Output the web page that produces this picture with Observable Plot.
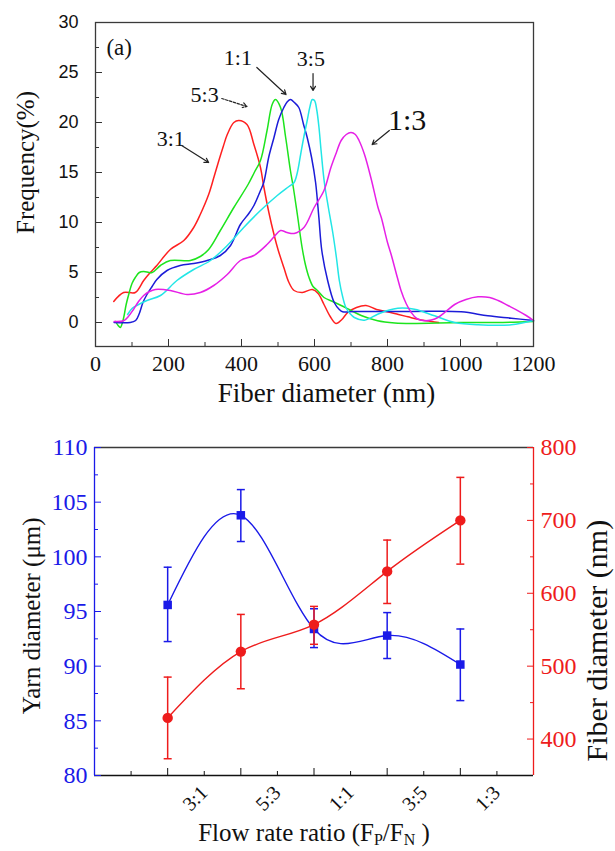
<!DOCTYPE html>
<html><head><meta charset="utf-8">
<script src="https://cdn.jsdelivr.net/npm/d3@7"></script>
<script src="https://cdn.jsdelivr.net/npm/@observablehq/plot@0.6"></script>
<style>
body{margin:0;background:#fff;}
#wrap{position:relative;width:615px;height:851px;overflow:hidden;}
#top{position:absolute;left:0;top:0;}
#bot1,#bot2{position:absolute;left:0;top:420px;}
</style></head><body><div id="wrap"><div id="top"></div><div id="bot1"></div><div id="bot2"></div></div>
<script>
// ---------- Panel (a): fiber diameter distributions ----------
const dist31 = [[50,2.1],[77,3.0],[109,3.0],[132,4.2],[150,5.0],[168,5.7],[205,7.3],[242,8.2],[269,9.5],[287,10.8],[310,12.8],[325,14.6],[338,16.2],[350,17.6],[361,18.8],[379,20.0],[393,20.2],[415,19.8],[434,17.8],[452,15.5],[461,13.6],[475,11.0],[489,8.8],[500,7.3],[516,5.5],[530,4.0],[544,3.2],[567,3.0],[594,3.3],[610,2.9],[626,1.8],[643,0.6],[659,-0.1],[675,0.3],[691,1.0],[715,1.5],[741,1.7],[770,1.3],[796,1.1],[830,0.8],[856,0.57],[880,0.35],[906,0.17],[940,0.0]];
const dist53 = [[55,0.1],[62,-0.3],[68,-0.5],[76,0.3],[84,1.8],[91,2.8],[100,3.9],[109,4.5],[120,5.0],[132,5.1],[155,5.0],[178,5.7],[205,6.2],[260,6.2],[287,6.6],[310,7.3],[342,9.2],[379,11.5],[418,13.8],[435,15.0],[452,16.2],[470,19.2],[484,21.8],[493,22.3],[507,21.5],[521,18.5],[534,15.2],[542,13.5],[553,10.8],[566,7.5],[575,5.8],[585,4.5],[596,3.6],[608,3.2],[626,2.5],[650,2.1],[673,1.7],[700,1.2],[728,0.7],[773,0.17],[820,-0.05],[865,-0.1],[1000,0.0],[1100,0.0],[1200,0.1]];
const dist11 = [[51,0],[95,0],[110,0.2],[120,0.9],[130,2.0],[141,2.8],[155,3.6],[168,4.3],[196,5.2],[232,5.7],[269,5.9],[306,6.2],[342,6.7],[370,7.7],[397,9.8],[420,10.9],[434,11.7],[452,13.2],[461,14.0],[475,16.6],[489,18.5],[502,20.3],[516,21.5],[526,22.1],[534,22.3],[545,22.0],[557,21.5],[570,19.8],[580,18.5],[592,16.5],[603,14.0],[612,10.5],[620,7.2],[636,4.2],[654,2.0],[668,1.3],[677,1.07],[709,1.1],[865,1.1],[1002,1.07],[1075,0.67],[1139,0.43],[1200,0.2]];
const dist35 = [[88,0.8],[100,1.4],[113,1.7],[141,2.2],[178,2.7],[223,4.2],[269,5.3],[315,6.2],[361,7.7],[406,9.5],[452,11.2],[498,12.7],[530,13.6],[544,14.0],[553,15.0],[562,16.8],[571,18.6],[580,20.2],[587,21.5],[594,22.3],[600,22.2],[606,21.3],[612,19.6],[618,17.2],[627,14.0],[638,11.5],[650,9.0],[660,6.5],[668,4.2],[677,2.6],[686,1.5],[697,0.9],[709,0.5],[737,0.23],[773,0.83],[800,1.2],[828,1.43],[874,1.33],[929,0.67],[984,0],[1048,-0.23],[1139,-0.23],[1200,0.2]];
const dist13 = [[51,0.1],[77,0.17],[90,0.6],[104,1.3],[118,2.1],[132,2.7],[148,3.1],[164,3.3],[205,3.2],[251,2.8],[287,3.0],[324,3.7],[361,4.8],[397,6.2],[434,6.7],[470,7.8],[490,8.6],[507,9.2],[525,9.0],[544,8.9],[571,9.5],[599,11.5],[626,13.2],[645,15.5],[660,17.0],[673,18.2],[687,18.8],[700,19.0],[712,18.8],[722,18.2],[737,16.8],[755,14.4],[774,11.5],[783,10.5],[800,8.0],[810,6.8],[827,4.5],[837,3.2],[851,1.9],[865,1.0],[880,0.4],[901,0.17],[920,0.25],[938,0.5],[960,1.1],[984,1.8],[1015,2.3],[1048,2.57],[1080,2.5],[1103,2.2],[1130,1.7],[1158,1.17],[1180,0.7],[1200,0.2]];
const seriesNames = ["3:1","5:3","1:1","3:5","1:3"];
const seriesColors = ["#ff2020","#1de41d","#1c1cd8","#22e6e6","#e620e6"];
const seriesData = [dist31, dist53, dist11, dist35, dist13];

// annotation labels (data units)
const annText = ["3:1","5:3","1:1","3:5","1:3"];
const annX = [206,299,390,590,854];
const annY = [18.4,22.8,26.5,26.4,20.2];
const arrX1 = [236,346,442,596,805], arrY1 = [17.7,22.4,25.5,24.9,19.2];
const arrX2 = [310,415,522,596,758], arrY2 = [16.0,21.6,22.8,23.2,17.8];

const topXTicks = [0,200,400,600,800,1000,1200];
const topXMinor = [100,300,500,700,900,1100];
const topYTicks = [0,5,10,15,20,25,30];
const topYMinor = [2.5,7.5,12.5,17.5,22.5,27.5];

// ---------- Panel (b): yarn & fiber diameter vs flow rate ratio ----------
const ratioLabels = ["3:1","5:3","1:1","3:5","1:3"];
const ratioPos = [1,2,3,4,5];
const yarnMean = [95.6,103.8,93.4,92.8,90.15];
const yarnLo = [92.25,101.4,91.7,90.7,86.85];
const yarnHi = [99.05,106.15,95.25,94.9,93.4];
const fiberMean = [429,520,557,630,700];
const fiberLo = [373,469,530,586,640];
const fiberHi = [485,571,582,673,759];
const yarnTicks = [80,85,90,95,100,105,110];
const yarnMinor = [82.5,87.5,92.5,97.5,102.5,107.5];
const fiberTicks = [400,500,600,700,800];
const fiberMinor = [450,550,650,750];

const serif = "'Liberation Serif','Times New Roman',Times,serif";
const sans = "'Liberation Sans',Arial,sans-serif";
const blue = "#1a1ae8", red = "#ee1c1c";

// ---------- top plot ----------
const idx = d3.range(annText.length);
const topPlot = Plot.plot({
  width: 615, height: 420,
  marginLeft: 95, marginRight: 82, marginTop: 22, marginBottom: 74,
  style: {background: "transparent", overflow: "visible", color: "#111"},
  x: {domain: [0, 1200]},
  y: {domain: [-2.4, 30]},
  marks: [
    Plot.axisY({ticks: topYTicks, tickSize: 0, tickPadding: 17, fontSize: 18, label: null, tickFormat: d => String(d)}),
    Plot.axisY({ticks: topYTicks, tickSize: -7, fill: "none", stroke: "#333"}),
    Plot.axisY({ticks: topYMinor, tickSize: -4, fill: "none", stroke: "#333"}),
    Plot.axisX({ticks: topXTicks, tickSize: 0, tickPadding: 9, fontSize: 22, label: null, tickFormat: d => String(d)}),
    Plot.axisX({ticks: topXTicks, tickSize: -7, fill: "none", stroke: "#333"}),
    Plot.axisX({ticks: topXMinor, tickSize: -4, fill: "none", stroke: "#333"}),
    ...seriesData.map((pts, i) => Plot.line(pts, {x: d => d[0], y: d => d[1], stroke: seriesColors[i], strokeWidth: 1.5, curve: "catmull-rom"})),
    Plot.frame({stroke: "#3a3a3a", strokeWidth: 1.3}),
    Plot.text(["(a)"], {x: 30, y: 27.5, textAnchor: "start", fontSize: 23}),
    Plot.text(idx, {filter: i => i !== 4, x: i => annX[i], y: i => annY[i], text: i => annText[i], fontSize: 22}),
    Plot.text(idx, {filter: i => i === 4, x: i => annX[i], y: i => annY[i], text: i => annText[i], fontSize: 30}),
    Plot.arrow(idx, {filter: i => i !== 1, x1: i => arrX1[i], y1: i => arrY1[i], x2: i => arrX2[i], y2: i => arrY2[i], stroke: "#222", strokeWidth: 1.2, headLength: 6}),
    Plot.arrow(idx, {filter: i => i === 1, x1: i => arrX1[i], y1: i => arrY1[i], x2: i => arrX2[i], y2: i => arrY2[i], stroke: "#222", strokeWidth: 1.2, headLength: 6, strokeDasharray: "2.5,1.5"}),
    Plot.text(["Frequency(%)"], {x: -190, y: 16.0, rotate: -90, fontSize: 25}),
    Plot.text(["Fiber diameter (nm)"], {x: 633, y: -7.1, fontSize: 27})
  ]
});
document.getElementById("top").appendChild(topPlot);

// ---------- bottom plots ----------
const cap = {draw(ctx, size) { const r = Math.sqrt(size / Math.PI); ctx.moveTo(-r, 0); ctx.lineTo(r, 0); }};
const yarn = ratioPos.map((p, i) => ({x: p, m: yarnMean[i], lo: yarnLo[i], hi: yarnHi[i]}));
const fiber = ratioPos.map((p, i) => ({x: p, m: fiberMean[i], lo: fiberLo[i], hi: fiberHi[i]}));
const labelPos = ratioPos.map(p => p + 0.5);
const labelOf = new Map(labelPos.map((p, i) => [p, ratioLabels[i]]));
const minorX = [0.5,1.5,2.5,3.5,4.5,5.5];
const xTitle = "Flow rate ratio (FP/FN )";
const common = {width: 615, height: 431, marginLeft: 94, marginRight: 82, marginTop: 27, marginBottom: 76};

const b1 = Plot.plot({
  ...common,
  style: {background: "transparent", overflow: "visible", color: "#111"},
  x: {domain: [0, 6]},
  y: {domain: [80, 110]},
  marks: [
    Plot.ruleY([110], {stroke: "#3a3a3a", strokeWidth: 1.3}),
    Plot.ruleY([80], {stroke: "#111", strokeWidth: 1.3}),
    Plot.ruleX([0], {stroke: blue, strokeWidth: 1.3}),
    Plot.axisY({ticks: yarnTicks, tickSize: 0, tickPadding: 7, fontSize: 24, fill: blue, label: null}),
    Plot.axisY({ticks: yarnTicks, tickSize: -7, fill: "none", stroke: blue}),
    Plot.axisY({ticks: yarnMinor, tickSize: -4, fill: "none", stroke: blue}),
    Plot.axisX({ticks: ratioPos, tickSize: -7, fill: "none", stroke: "#111"}),
    Plot.axisX({ticks: minorX, tickSize: -4, fill: "none", stroke: "#111"}),
    Plot.axisX({ticks: labelPos, tickFormat: d => labelOf.get(d), tickRotate: -45, tickSize: 0, tickPadding: 14, lineAnchor: "middle", fontSize: 20, label: null}),
    Plot.text(["Yarn diameter (μm)"], {x: -0.86, y: 94.6, rotate: -90, fontSize: 25}),
    Plot.text([xTitle], {x: 3.0, y: 74.75, fontSize: 25}),
    Plot.ruleX(yarn, {x: "x", y1: "lo", y2: "hi", stroke: blue, strokeWidth: 1.5}),
    Plot.dot(yarn, {x: "x", y: "lo", symbol: cap, r: 4, stroke: blue, strokeWidth: 1.5}),
    Plot.dot(yarn, {x: "x", y: "hi", symbol: cap, r: 4, stroke: blue, strokeWidth: 1.5}),
    Plot.line(yarn, {x: "x", y: "m", stroke: blue, strokeWidth: 1.4, curve: "natural"}),
    Plot.dot(yarn, {x: "x", y: "m", symbol: "square", r: 4.8, fill: blue})
  ]
});
document.getElementById("bot1").appendChild(b1);

const b2 = Plot.plot({
  ...common,
  style: {background: "transparent", overflow: "visible", color: "#111"},
  x: {domain: [0, 6], axis: null},
  y: {domain: [350, 800]},
  marks: [
    Plot.ruleX([6], {stroke: red, strokeWidth: 1.3}),
    Plot.axisY({anchor: "right", ticks: fiberTicks, tickSize: 0, tickPadding: 7, fontSize: 24, fill: red, label: null}),
    Plot.axisY({anchor: "right", ticks: fiberTicks, tickSize: -7, fill: "none", stroke: red}),
    Plot.axisY({anchor: "right", ticks: fiberMinor, tickSize: -4, fill: "none", stroke: red}),
    Plot.text(["Fiber diameter (nm)"], {x: 6.87, y: 535, rotate: -90, fontSize: 30}),
    Plot.ruleX(fiber, {x: "x", y1: "lo", y2: "hi", stroke: red, strokeWidth: 1.5}),
    Plot.dot(fiber, {x: "x", y: "lo", symbol: cap, r: 4, stroke: red, strokeWidth: 1.5}),
    Plot.dot(fiber, {x: "x", y: "hi", symbol: cap, r: 4, stroke: red, strokeWidth: 1.5}),
    Plot.line(fiber, {x: "x", y: "m", stroke: red, strokeWidth: 1.4, curve: "natural"}),
    Plot.dot(fiber, {x: "x", y: "m", r: 5.2, fill: red})
  ]
});
document.getElementById("bot2").appendChild(b2);

// fonts: serif everywhere, sans for the panel (a) y tick labels
d3.selectAll("#wrap svg").style("font-family", serif);
d3.selectAll("#wrap svg text").style("font-family", serif);
d3.select(topPlot).selectAll('g[aria-label="y-axis tick label"] text').style("font-family", sans);

// subscripts in the x title
d3.select(b1).selectAll("text").filter(function() { return this.textContent === xTitle; }).each(function() {
  const t = d3.select(this);
  t.text(null);
  t.append("tspan").text("Flow rate ratio (F");
  t.append("tspan").attr("dy", 4).attr("font-size", 16).text("P");
  t.append("tspan").attr("dy", -4).text("/F");
  t.append("tspan").attr("dy", 4).attr("font-size", 16).text("N");
  t.append("tspan").attr("dy", -4).text(" )");
});
</script></body></html>
